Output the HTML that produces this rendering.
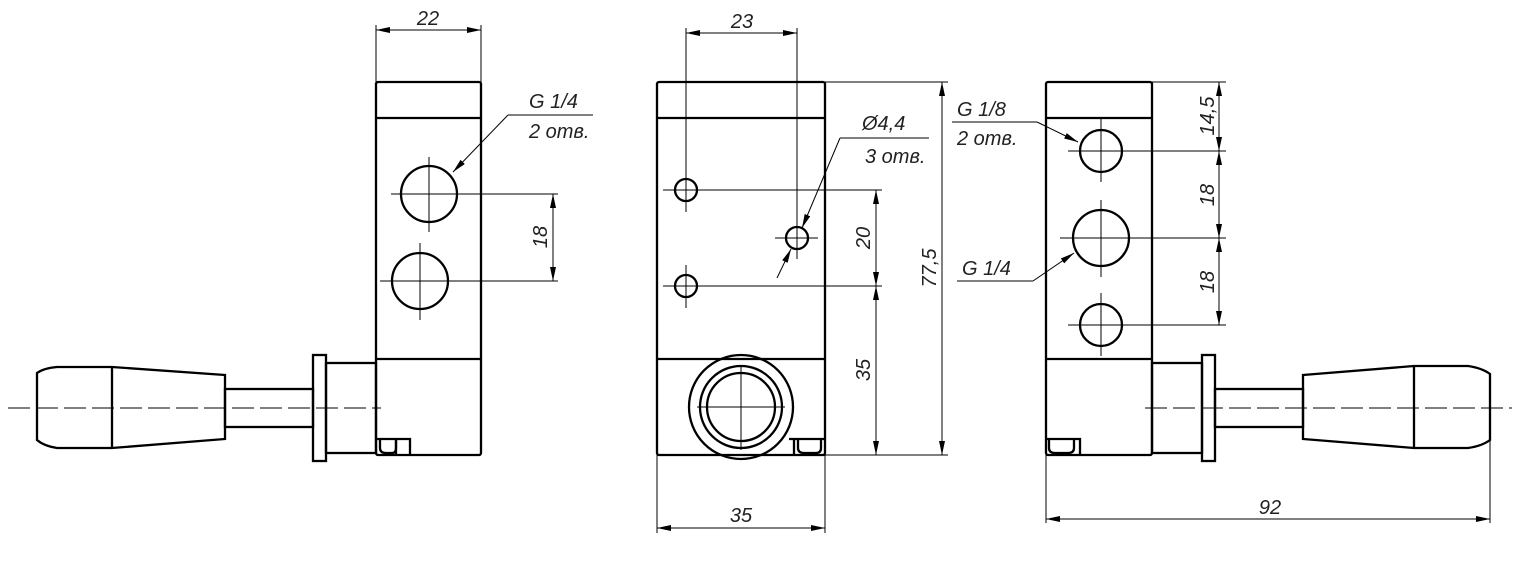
<!DOCTYPE html>
<html><head><meta charset="utf-8"><style>
html,body{margin:0;padding:0;background:#fff}
svg{display:block}
text{font-family:"Liberation Sans",sans-serif;font-style:italic;font-size:20px;fill:#222}
</style></head><body>
<svg width="1525" height="565" viewBox="0 0 1525 565" xmlns="http://www.w3.org/2000/svg">
<defs>
<marker id="a" viewBox="0 0 14 6" refX="14" refY="3" markerWidth="14" markerHeight="6" markerUnits="userSpaceOnUse" orient="auto"><path d="M0,0 L14,3 L0,6 Z" fill="#000"/></marker>
<marker id="b" viewBox="0 0 14 6" refX="0" refY="3" markerWidth="14" markerHeight="6" markerUnits="userSpaceOnUse" orient="auto"><path d="M14,0 L0,3 L14,6 Z" fill="#000"/></marker>
</defs>
<g fill="none" stroke="#000">
<!-- LEFT VIEW -->
<g stroke-width="2.3">
<rect x="376" y="82" width="105" height="373" rx="2"/>
<line x1="376" y1="118" x2="481" y2="118"/>
<line x1="376" y1="359" x2="481" y2="359"/>
<circle cx="429" cy="194" r="28"/>
<circle cx="420" cy="281" r="28"/>
<path d="M377,439 H410 V455 M396,439 V455"/>
<path d="M380,439 V448 Q380,453 386,453 H392 Q396,453 396,448 V439"/>
<rect x="326" y="363" width="50" height="90"/>
<rect x="313" y="355" width="13" height="106"/>
<rect x="225" y="389" width="88" height="38"/>
<path d="M225,375 L112,367 L57,367 Q44,368 37,373 L37,440 Q44,446 57,448 L112,448 L225,439 Z"/>
<line x1="112" y1="367" x2="112" y2="448"/>
</g>
<g stroke-width="1">
<line x1="391" y1="194" x2="558" y2="194"/>
<line x1="429" y1="157" x2="429" y2="232"/>
<line x1="380" y1="281" x2="558" y2="281"/>
<line x1="420" y1="243" x2="420" y2="320"/>
<line x1="553" y1="194" x2="553" y2="281" marker-start="url(#b)" marker-end="url(#a)"/>
<line x1="376" y1="25" x2="376" y2="82"/>
<line x1="481" y1="25" x2="481" y2="82"/>
<line x1="376" y1="30" x2="481" y2="30" marker-start="url(#b)" marker-end="url(#a)"/>
<line x1="508" y1="115" x2="593" y2="115"/>
<line x1="508" y1="115" x2="453" y2="172" marker-end="url(#a)"/>
<line x1="8" y1="408" x2="381" y2="408" stroke-dasharray="22,6"/>
</g>
<!-- MIDDLE VIEW -->
<g stroke-width="2.3">
<rect x="657" y="82" width="168" height="373" rx="2"/>
<line x1="657" y1="118" x2="825" y2="118"/>
<line x1="657" y1="359" x2="825" y2="359"/>
<circle cx="686" cy="190" r="11"/>
<circle cx="686" cy="286" r="11"/>
<circle cx="797" cy="238" r="11"/>
<circle cx="741" cy="407" r="52"/>
<circle cx="741" cy="407" r="41"/>
<circle cx="741" cy="407" r="34"/>
<path d="M789,439 H825 M794,439 V455"/>
<path d="M798,439 V448 Q798,453 804,453 H816 Q821,453 821,448 V439"/>
</g>
<g stroke-width="1">
<line x1="686" y1="28" x2="686" y2="212"/>
<line x1="797" y1="28" x2="797" y2="259"/>
<line x1="686" y1="33" x2="797" y2="33" marker-start="url(#b)" marker-end="url(#a)"/>
<line x1="663" y1="190" x2="882" y2="190"/>
<line x1="663" y1="286" x2="882" y2="286"/>
<line x1="686" y1="265" x2="686" y2="308"/>
<line x1="775" y1="238" x2="818" y2="238"/>
<line x1="697" y1="407" x2="785" y2="407"/>
<line x1="741" y1="365" x2="741" y2="450"/>
<line x1="825" y1="82" x2="948" y2="82"/>
<line x1="825" y1="455" x2="948" y2="455"/>
<line x1="876" y1="190" x2="876" y2="286" marker-start="url(#b)" marker-end="url(#a)"/>
<line x1="876" y1="286" x2="876" y2="455" marker-start="url(#b)" marker-end="url(#a)"/>
<line x1="942" y1="82" x2="942" y2="455" marker-start="url(#b)" marker-end="url(#a)"/>
<line x1="657" y1="455" x2="657" y2="533"/>
<line x1="825" y1="455" x2="825" y2="533"/>
<line x1="657" y1="528" x2="825" y2="528" marker-start="url(#b)" marker-end="url(#a)"/>
<line x1="840" y1="138" x2="929" y2="138"/>
<line x1="840" y1="138" x2="802" y2="228" marker-end="url(#a)"/>
<line x1="777" y1="278" x2="791" y2="249" marker-end="url(#a)"/>
</g>
<!-- RIGHT VIEW -->
<g stroke-width="2.3">
<rect x="1046" y="82" width="106" height="373" rx="2"/>
<line x1="1046" y1="118" x2="1152" y2="118"/>
<line x1="1046" y1="359" x2="1152" y2="359"/>
<circle cx="1101" cy="151" r="21"/>
<circle cx="1101" cy="238" r="28"/>
<circle cx="1101" cy="325" r="21"/>
<path d="M1046,439 H1080 V455"/>
<path d="M1049,439 V448 Q1049,453 1055,453 H1068 Q1074,453 1074,448 V439"/>
<rect x="1152" y="363" width="50" height="90"/>
<rect x="1202" y="355" width="13" height="106"/>
<rect x="1215" y="389" width="88" height="38"/>
<path d="M1303,375 L1414,366 L1468,366 Q1482,368 1490,374 L1490,440 Q1482,446 1468,448 L1414,448 L1303,439 Z"/>
<line x1="1414" y1="366" x2="1414" y2="448"/>
</g>
<g stroke-width="1">
<line x1="1068" y1="151" x2="1226" y2="151"/>
<line x1="1060" y1="238" x2="1226" y2="238"/>
<line x1="1068" y1="325" x2="1226" y2="325"/>
<line x1="1101" y1="119" x2="1101" y2="182"/>
<line x1="1101" y1="200" x2="1101" y2="277"/>
<line x1="1101" y1="293" x2="1101" y2="356"/>
<line x1="1152" y1="82" x2="1226" y2="82"/>
<line x1="1219" y1="82" x2="1219" y2="151" marker-start="url(#b)" marker-end="url(#a)"/>
<line x1="1219" y1="151" x2="1219" y2="238" marker-start="url(#b)" marker-end="url(#a)"/>
<line x1="1219" y1="238" x2="1219" y2="325" marker-start="url(#b)" marker-end="url(#a)"/>
<line x1="952" y1="122" x2="1037" y2="122"/>
<line x1="1037" y1="122" x2="1078" y2="142" marker-end="url(#a)"/>
<line x1="957" y1="281" x2="1033" y2="281"/>
<line x1="1033" y1="281" x2="1074" y2="253" marker-end="url(#a)"/>
<line x1="1046" y1="455" x2="1046" y2="523"/>
<line x1="1490" y1="440" x2="1490" y2="523"/>
<line x1="1046" y1="519" x2="1490" y2="519" marker-start="url(#b)" marker-end="url(#a)"/>
<line x1="1145" y1="408" x2="1512" y2="408" stroke-dasharray="22,6"/>
</g>
</g>
<!-- TEXT -->
<text x="428" y="25" text-anchor="middle">22</text>
<text x="529" y="108">G 1/4</text>
<text x="529" y="138">2 отв.</text>
<text transform="translate(547,237) rotate(-90)" text-anchor="middle">18</text>
<text x="742" y="28" text-anchor="middle">23</text>
<text x="862" y="130" font-size="22">Ø4,4</text>
<text x="865" y="163">3 отв.</text>
<text transform="translate(870,238) rotate(-90)" text-anchor="middle">20</text>
<text transform="translate(870,370) rotate(-90)" text-anchor="middle">35</text>
<text transform="translate(936,268) rotate(-90)" text-anchor="middle">77,5</text>
<text x="741" y="522" text-anchor="middle">35</text>
<text x="957" y="116">G 1/8</text>
<text x="957" y="145">2 отв.</text>
<text x="962" y="275">G 1/4</text>
<text transform="translate(1214,116) rotate(-90)" text-anchor="middle">14,5</text>
<text transform="translate(1214,195) rotate(-90)" text-anchor="middle">18</text>
<text transform="translate(1214,282) rotate(-90)" text-anchor="middle">18</text>
<text x="1270" y="514" text-anchor="middle">92</text>
</svg>
</body></html>
